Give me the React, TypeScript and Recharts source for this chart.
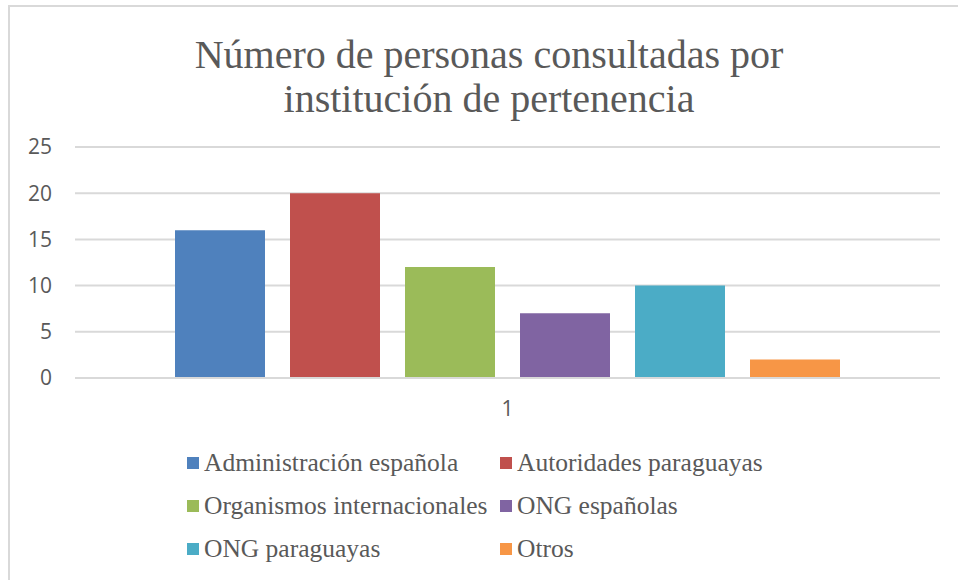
import { Bar, BarChart, CartesianGrid, XAxis, YAxis } from "recharts";

const categories = ["1"];
const seriesNames = [
  "Administración española",
  "Autoridades paraguayas",
  "Organismos internacionales",
  "ONG españolas",
  "ONG paraguayas",
  "Otros",
];
const seriesValues = [16, 20, 12, 7, 10, 2];
const seriesColors = ["#4f81bd", "#c0504d", "#9bbb59", "#8064a2", "#4bacc6", "#f79646"];
const yTicks = [0, 5, 10, 15, 20, 25];

const data = categories.map((name) => {
  const row: Record<string, string | number> = { name };
  seriesNames.forEach((s, i) => {
    row[s] = seriesValues[i];
  });
  return row;
});

const serif = "'Liberation Serif', 'DejaVu Serif', serif";
const sans = "'Open Sans', 'Liberation Sans', sans-serif";

function LegendGrid() {
  return (
    <div
      style={{
        position: "absolute",
        left: 177,
        top: 434,
        display: "grid",
        gridTemplateColumns: "313px 300px",
        fontFamily: serif,
        fontSize: 25.5,
        color: "#595959",
      }}
    >
      {seriesNames.map((s, i) => (
        <div key={s} style={{ display: "flex", alignItems: "center", height: 43 }}>
          <span
            style={{
              width: 12,
              height: 12,
              background: seriesColors[i],
              display: "inline-block",
              marginRight: 5,
            }}
          />
          <span>{s}</span>
        </div>
      ))}
    </div>
  );
}

export default function App() {
  return (
    <div
      style={{
        position: "absolute",
        left: 8,
        top: 5,
        width: 960,
        height: 600,
        borderLeft: "2px solid #d9d9d9",
        borderTop: "2px solid #d9d9d9",
        background: "#fff",
      }}
    >
      <div
        style={{
          position: "absolute",
          left: -2,
          top: 26,
          width: 962,
          textAlign: "center",
          fontFamily: serif,
          fontSize: 40,
          lineHeight: "44px",
          color: "#595959",
        }}
      >
        Número de personas consultadas por
        <br />
        institución de pertenencia
      </div>
      <BarChart
        width={946}
        height={570}
        data={data}
        margin={{ top: 140, right: 16, bottom: 159, left: 0 }}
        barCategoryGap={100}
        barGap={25}
      >
        <CartesianGrid vertical={false} stroke="#d9d9d9" strokeWidth={2} />
        <XAxis
          dataKey="name"
          axisLine={{ stroke: "#d9d9d9", strokeWidth: 2 }}
          tickLine={false}
          tick={{ fill: "#595959", fontSize: 21, fontFamily: sans }}
          tickMargin={17}
          height={40}
        />
        <YAxis
          domain={[0, 25]}
          ticks={yTicks}
          axisLine={false}
          tickLine={false}
          tick={{ fill: "#595959", fontSize: 21, fontFamily: sans }}
          tickMargin={17}
          width={65}
        />
        {seriesNames.map((s, i) => (
          <Bar key={s} dataKey={s} fill={seriesColors[i]} isAnimationActive={false} />
        ))}
      </BarChart>
      <LegendGrid />
    </div>
  );
}
